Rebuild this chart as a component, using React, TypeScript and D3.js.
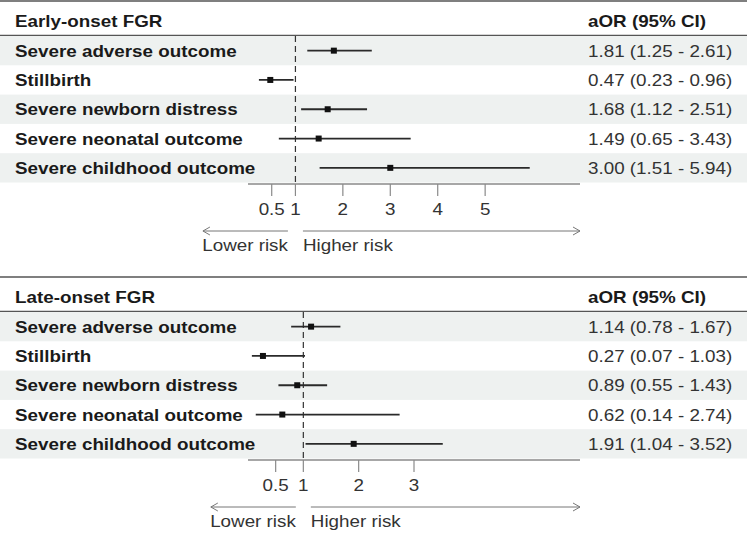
import * as d3 from "d3";
import React from "react";

const W = 750;
const H = 535;

const outcomes = [
  "Severe adverse outcome",
  "Stillbirth",
  "Severe newborn distress",
  "Severe neonatal outcome",
  "Severe childhood outcome",
];

// early-onset FGR
const earlyOR = [1.81, 0.47, 1.68, 1.49, 3.0];
const earlyLo = [1.25, 0.23, 1.12, 0.65, 1.51];
const earlyHi = [2.61, 0.96, 2.51, 3.43, 5.94];
const earlyTicks = [0.5, 1, 2, 3, 4, 5];
const earlyDomain = [0, 7];

// late-onset FGR
const lateOR = [1.14, 0.27, 0.89, 0.62, 1.91];
const lateLo = [0.78, 0.07, 0.55, 0.14, 1.04];
const lateHi = [1.67, 1.03, 1.43, 2.74, 3.52];
const lateTicks = [0.5, 1, 2, 3];
const lateDomain = [0, 6];

const FONT = "'Liberation Sans', Arial, Helvetica, sans-serif";
const FS = 16.5;
const SX = 1.14; // glyphs in the picture are a bit wide

const T = ({ x, y, children, anchor = "start", bold = false, fill = "#222" }) => (
  <text
    transform={`translate(${x},${y}) scale(${SX},1)`}
    textAnchor={anchor}
    fontFamily={FONT}
    fontSize={FS}
    fontWeight={bold ? "bold" : "normal"}
    fill={fill}
  >
    {children}
  </text>
);

const Panel = ({ title, or, lo, hi, ticks, domain, top }) => {
  const rowsTop = top + 36;
  const y = d3.scaleBand().domain(outcomes).range([rowsTop, rowsTop + 146.5]);
  const x = d3.scaleLinear().domain(domain).range([248, 580]);
  const axisY = rowsTop + 148;
  const x1 = x(1);
  const arrowY = axisY + 47;
  const gap = 7.5;
  const lowW = 85;

  return (
    <g>
      <line x1={0} x2={747} y1={top + 1} y2={top + 1} stroke="#555" strokeWidth={1.5} />
      <T x={15} y={top + 27} bold fill="#1a1a1a">{title}</T>
      <T x={588} y={top + 27} bold fill="#1a1a1a">aOR (95% CI)</T>
      <line x1={0} x2={747} y1={top + 35.5} y2={top + 35.5} stroke="#555" strokeWidth={1.5} />

      {outcomes.map((o, i) => (
        <g key={o}>
          {i % 2 === 0 && (
            <rect x={0} y={y(o)} width={747} height={y.bandwidth()} fill="#eef1f0" />
          )}
          <T x={15} y={y(o)! + y.bandwidth() / 2 + 6} bold fill="#1a1a1a">{o}</T>
          <T x={588} y={y(o)! + y.bandwidth() / 2 + 6} fill="#333">
            {`${or[i].toFixed(2)} (${lo[i].toFixed(2)} - ${hi[i].toFixed(2)})`}
          </T>
        </g>
      ))}

      <line
        x1={x1}
        x2={x1}
        y1={rowsTop}
        y2={axisY}
        stroke="#333"
        strokeWidth={1.2}
        strokeDasharray="6,4"
      />

      {outcomes.map((o, i) => {
        const cy = y(o)! + y.bandwidth() / 2;
        return (
          <g key={"ci" + o}>
            <line x1={x(lo[i])} x2={x(hi[i])} y1={cy} y2={cy} stroke="#2a2a2a" strokeWidth={1.8} />
            <rect x={x(or[i]) - 3} y={cy - 3} width={6} height={6} fill="#111" />
          </g>
        );
      })}

      <line x1={x(domain[0])} x2={x(domain[1])} y1={axisY} y2={axisY} stroke="#8a8a8a" strokeWidth={1.5} />
      {ticks.map((t) => (
        <g key={"t" + t}>
          <line x1={x(t)} x2={x(t)} y1={axisY} y2={axisY + 12} stroke="#8a8a8a" strokeWidth={1.2} />
          <T x={x(t)} y={axisY + 31} anchor="middle" fill="#333">{String(t)}</T>
        </g>
      ))}

      <line x1={x1 - gap - lowW} x2={x1 - gap} y1={arrowY} y2={arrowY} stroke="#777" strokeWidth={1} />
      <path
        d={`M${x1 - gap - lowW + 7},${arrowY - 4}L${x1 - gap - lowW},${arrowY}L${x1 - gap - lowW + 7},${arrowY + 4}`}
        fill="none"
        stroke="#777"
        strokeWidth={1}
      />
      <line x1={x1 + gap} x2={x(domain[1])} y1={arrowY} y2={arrowY} stroke="#777" strokeWidth={1} />
      <path
        d={`M${x(domain[1]) - 7},${arrowY - 4}L${x(domain[1])},${arrowY}L${x(domain[1]) - 7},${arrowY + 4}`}
        fill="none"
        stroke="#777"
        strokeWidth={1}
      />
      <T x={x1 - gap} y={arrowY + 20} anchor="end" fill="#333">Lower risk</T>
      <T x={x1 + gap} y={arrowY + 20} fill="#333">Higher risk</T>
    </g>
  );
};

export default function App() {
  return (
    <div style={{ position: "absolute", left: 0, top: 0 }}>
      <svg width={W} height={H} style={{ display: "block", background: "#fff" }}>
        <Panel
          title="Early-onset FGR"
          or={earlyOR}
          lo={earlyLo}
          hi={earlyHi}
          ticks={earlyTicks}
          domain={earlyDomain}
          top={0}
        />
        <Panel
          title="Late-onset FGR"
          or={lateOR}
          lo={lateLo}
          hi={lateHi}
          ticks={lateTicks}
          domain={lateDomain}
          top={276}
        />
      </svg>
    </div>
  );
}
